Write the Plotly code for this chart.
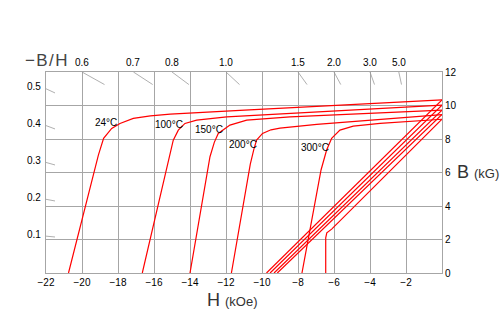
import plotly.graph_objects as go

# ---- data (H in kOe, B in kG) ----
H_24 = [-20.75, -19.09, -18.8, -18.35, -17.89, -17.15, -16.2, -15.1, -10.7, 0]
B_24 = [0, 7.04, 8.04, 8.63, 8.93, 9.23, 9.38, 9.48, 9.74, 10.33]
H_100 = [-16.65, -15.2, -14.93, -14.65, -14.28, -13.63, -11.96, 0]
B_100 = [0, 6.74, 7.93, 8.53, 8.93, 9.13, 9.32, 10.02]
H_150 = [-14.0, -12.89, -12.65, -12.43, -11.78, -10.85, -8.44, 0]
B_150 = [0, 6.94, 7.8, 8.33, 8.83, 9.13, 9.32, 9.72]
H_200 = [-11.7, -10.65, -10.45, -10.3, -9.97, -9.5, -9.0, -6.96, 0]
B_200 = [0, 6.5, 7.4, 7.93, 8.33, 8.55, 8.65, 8.87, 9.46]
H_300 = [-7.78, -6.72, -6.41, -6.13, -5.67, -4.93, -3.44, 0]
B_300 = [0, 6.15, 7.34, 8.04, 8.53, 8.77, 8.93, 9.18]

# normal (B-H) curves
HN_24 = [-9.75, 0]
BN_24 = [0, 10.33]
HN_100 = [-9.55, 0]
BN_100 = [0, 10.02]
HN_150 = [-9.33, 0]
BN_150 = [0, 9.72]
HN_200 = [-9.15, 0]
BN_200 = [0, 9.46]
HN_300 = [-6.46, -6.46, -6.40, -6.13, 0]
BN_300 = [0, 2.1, 2.4, 2.62, 9.18]

temps = ["24°C", "100°C", "150°C", "200°C", "300°C"]
label_H = [-18.69, -15.14, -12.94, -11.08, -7.04]
label_B = [8.99, 8.89, 8.59, 7.70, 7.50]

# permeance (-B/H) marks
pc_top = [0.6, 0.7, 0.8, 1.0, 1.5, 2.0, 3.0, 5.0]
pc_left = [0.5, 0.4, 0.3, 0.2, 0.1]

x_ticks = [-22, -20, -18, -16, -14, -12, -10, -8, -6, -4, -2]
y_ticks = [0, 2, 4, 6, 8, 10, 12]

RED = "#ff0000"
GRID = "#a6a6a6"
FONT = "Liberation Sans, Arial, sans-serif"

fig = go.Figure()

for H, B in [(H_24, B_24), (H_100, B_100), (H_150, B_150), (H_200, B_200), (H_300, B_300),
             (HN_24, BN_24), (HN_100, BN_100), (HN_150, BN_150), (HN_200, BN_200), (HN_300, BN_300)]:
    fig.add_trace(go.Scatter(x=H, y=B, mode="lines", line=dict(color=RED, width=1.2),
                             showlegend=False, hoverinfo="skip"))

# permeance stubs at the top edge
for p in pc_top:
    fig.add_trace(go.Scatter(x=[-12 / p, -11.25 / p], y=[12, 11.25], mode="lines",
                             line=dict(color="#9a9a9a", width=0.8), showlegend=False,
                             hoverinfo="skip"))
    fig.add_annotation(x=-12 / p, y=12, text=f"{p:.1f}", showarrow=False, xanchor="center",
                       yanchor="middle", yshift=10, font=dict(size=10, color="#000", family=FONT))
# permeance stubs at the left edge
for p in pc_left:
    fig.add_trace(go.Scatter(x=[-22, -21.5], y=[22 * p, 21.5 * p], mode="lines",
                             line=dict(color="#9a9a9a", width=0.8), showlegend=False,
                             hoverinfo="skip"))
    fig.add_annotation(x=-22, y=22 * p, text=f"{p:.1f}", showarrow=False, xanchor="right",
                       yanchor="middle", xshift=-3, yshift=2,
                       font=dict(size=10, color="#000", family=FONT))

for t, hx, by in zip(temps, label_H, label_B):
    fig.add_annotation(x=hx, y=by, text=t, showarrow=False, xanchor="center", yanchor="middle",
                       font=dict(size=10, color="#000", family=FONT))

fig.add_annotation(x=-22, y=12, text="−\u200aB\u200a/\u200aH", showarrow=False, xanchor="center",
                   yanchor="middle", yshift=12, font=dict(size=17, color="#444", family=FONT))
fig.add_annotation(xref="paper", x=1, y=6.06, xshift=13,
                   text="B <span style='font-size:13px'>(kG)</span>",
                   showarrow=False, xanchor="left", yanchor="middle",
                   font=dict(size=18, color="#333", family=FONT))
fig.add_annotation(x=-11.64, yref="paper", y=0, yshift=-27,
                   text="H <span style='font-size:13px'>(kOe)</span>",
                   showarrow=False, xanchor="center", yanchor="middle",
                   font=dict(size=18, color="#333", family=FONT))

fig.update_layout(
    width=501, height=329,
    margin=dict(l=46, r=59, t=72, b=56),
    paper_bgcolor="white", plot_bgcolor="white",
    font=dict(family=FONT, size=10, color="#000"),
    xaxis=dict(range=[-22, 0], tickvals=x_ticks, ticktext=[f"−{abs(v)}" for v in x_ticks],
               showgrid=True, gridcolor=GRID, gridwidth=1, zeroline=False,
               showline=True, linecolor=GRID, linewidth=1, mirror=True, ticks=""),
    yaxis=dict(range=[0, 12], tickvals=y_ticks, side="right",
               showgrid=True, gridcolor=GRID, gridwidth=1, zeroline=False,
               showline=True, linecolor=GRID, linewidth=1, mirror=True, ticks=""),
)

fig.write_html("out.html")
